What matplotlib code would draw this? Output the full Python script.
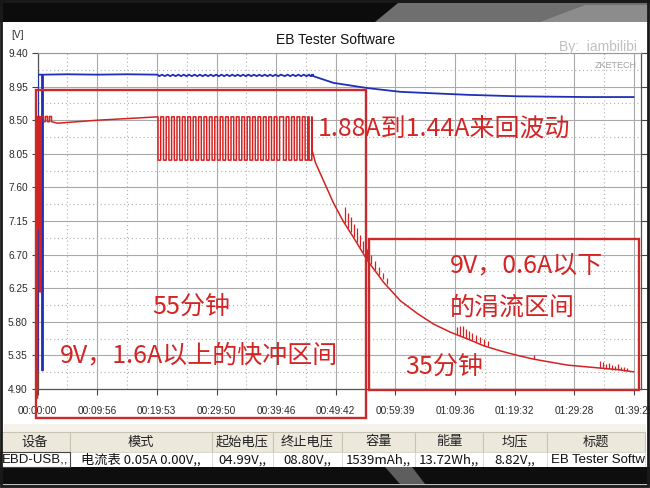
import matplotlib
matplotlib.use("Agg")
import matplotlib.pyplot as plt
from matplotlib.patches import Rectangle, Polygon
import numpy as np

# ---------------- data ----------------
x_tick_secs = [0, 596, 1193, 1790, 2386, 2982, 3579, 4176, 4772, 5368, 5965]
x_tick_labels = ["00:00:00", "00:09:56", "00:19:53", "00:29:50", "00:39:46", "00:49:42",
                 "00:59:39", "01:09:36", "01:19:32", "01:29:28", "01:39:25"]
y_ticks = [4.90, 5.35, 5.80, 6.25, 6.70, 7.15, 7.60, 8.05, 8.50, 8.95, 9.40]

# red trace (current, drawn on the screen's scale): start section
red_start_t = [0, 0, 8, 8, 14, 14, 22, 22, 30, 30, 36, 36, 60, 60, 80, 80, 100, 100, 120, 120, 140, 140,
               200, 600, 1000, 1200]
red_start_v = [4.78, 8.55, 8.55, 7.05, 7.05, 8.55, 8.55, 6.20, 6.20, 6.40, 6.40, 8.55, 8.55, 8.48, 8.48, 8.55,
               8.55, 8.48, 8.48, 8.55, 8.55, 8.48, 8.46, 8.50, 8.53, 8.545]
# square oscillation 1.88A <-> 1.44A : start of each low period and its length (s)
pulse_low_start = [1205, 1260, 1314, 1368, 1422, 1476, 1530, 1584, 1638, 1692, 1746, 1800, 1854, 1908,
                   1962, 2016, 2070, 2124, 2178, 2232, 2286, 2340, 2394, 2460, 2514, 2568, 2622, 2676, 2716]
pulse_low_len = 27
pulse_high_v = 8.545
pulse_low_v = 7.965
# taper (trickle) section
red_tail_t = [2745, 2745, 2780, 2860, 2960, 3060, 3160, 3300, 3460, 3630, 3800, 3960, 4130, 4300,
              4460, 4630, 4800, 4960, 5130, 5300, 5460, 5630, 5800, 5960]
red_tail_v = [8.545, 8.10, 7.93, 7.69, 7.39, 7.14, 6.93, 6.62, 6.33, 6.08, 5.91, 5.77, 5.66, 5.57,
              5.48, 5.41, 5.35, 5.30, 5.26, 5.22, 5.20, 5.18, 5.16, 5.13]
spike_t = [3070, 3100, 3130, 3160, 3190, 3220, 3250, 3290, 3330, 3370, 3410, 3450, 3490,
           4190, 4220, 4250, 4280, 4310, 4340, 4380, 4420, 4460, 4500,
           4960,
           5620, 5650, 5680, 5710, 5740, 5770, 5800, 5830, 5860, 5890]
spike_base = [7.12, 7.06, 7.00, 6.93, 6.87, 6.80, 6.73, 6.64, 6.57, 6.50, 6.43, 6.37, 6.31,
              5.63, 5.61, 5.60, 5.58, 5.57, 5.55, 5.53, 5.51, 5.48, 5.47,
              5.30,
              5.18, 5.18, 5.17, 5.17, 5.16, 5.16, 5.15, 5.15, 5.14, 5.14]
spike_top = [7.34, 7.26, 7.20, 7.11, 7.05, 6.96, 6.88, 6.78, 6.70, 6.62, 6.53, 6.46, 6.39,
             5.73, 5.74, 5.74, 5.71, 5.68, 5.65, 5.62, 5.59, 5.57, 5.54,
             5.36,
             5.28, 5.26, 5.24, 5.25, 5.22, 5.21, 5.23, 5.20, 5.19, 5.18]

# blue trace (voltage)
blue_start_t = [5, 5, 45, 45, 55, 55, 300, 600, 900, 1200]
blue_start_v = [5.15, 9.11, 9.11, 5.15, 5.15, 9.11, 9.115, 9.11, 9.115, 9.11]
blue_wave_hi = 9.11
blue_wave_lo = 9.09
blue_tail_t = [2740, 2780, 2960, 3300, 3630, 3960, 4300, 4800, 5500, 5960]
blue_tail_v = [9.10, 9.08, 9.00, 8.93, 8.88, 8.86, 8.84, 8.82, 8.81, 8.81]

table_headers = ["设备", "模式", "起始电压", "终止电压", "容量", "能量", "均压", "标题"]
table_values = ["EBD-USB,,", "电流表 0.05A 0.00V,,", "04.99V,,", "08.80V,,", "1539mAh,,",
                "13.72Wh,,", "8.82V,,", "EB Tester Softw"]
table_col_edges = [0, 70, 212, 273, 342, 415, 483, 547, 645]

# ---------------- build traces from the lists ----------------
red_t = list(red_start_t)
red_v = list(red_start_v)
for s in pulse_low_start:
    red_t += [s, s, s + pulse_low_len, s + pulse_low_len]
    red_v += [pulse_high_v, pulse_low_v, pulse_low_v, pulse_high_v]
red_t += red_tail_t
red_v += red_tail_v

blue_t = list(blue_start_t)
blue_v = list(blue_start_v)
for s in pulse_low_start:
    blue_t += [s + pulse_low_len / 2, s + pulse_low_len + 13]
    blue_v += [blue_wave_lo, blue_wave_hi]
blue_t += blue_tail_t
blue_v += blue_tail_v

# ---------------- figure ----------------
W, H = 650, 488
fig = plt.figure(figsize=(6.5, 4.88), dpi=100)
fig.patch.set_facecolor("white")

def fx(x):
    return x / W

def fy(y):
    return 1 - y / H

CJK = ["Noto Sans CJK SC", "DejaVu Sans"]
SANS = ["Liberation Sans", "DejaVu Sans"]

ax = fig.add_axes([fx(37.5), fy(389), (641 - 37.5) / W, (389 - 53) / H])
ax.set_xlim(0, 6035)
ax.set_ylim(4.90, 9.40)
ax.set_xticks(x_tick_secs)
ax.set_xticklabels(x_tick_labels, fontsize=7.3, color="#2a2a2a", family=SANS)
ax.set_yticks(y_ticks)
ax.set_yticklabels([f"{v:.2f}" for v in y_ticks], fontsize=7.3, color="#2a2a2a", family=SANS)
ax.set_xticks([(a + b) / 2 for a, b in zip(x_tick_secs[:-1], x_tick_secs[1:])], minor=True)
ax.set_yticks([(a + b) / 2 for a, b in zip(y_ticks[:-1], y_ticks[1:])], minor=True)
ax.tick_params(which="major", direction="out", length=4, width=0.8, color="#444444", pad=8,
               right=True, labelright=False)
ax.tick_params(axis="y", which="major", pad=3)
ax.tick_params(which="minor", length=0)
ax.grid(which="major", color="#a9a9a9", lw=0.8, ls="-")
ax.grid(which="minor", color="#b0b0b0", lw=0.8, ls=(0, (1, 2.5)))
ax.set_axisbelow(True)
for sp in ["left", "bottom", "right"]:
    ax.spines[sp].set_color("#555555")
    ax.spines[sp].set_linewidth(0.9)
ax.spines["top"].set_color("#999999")
ax.spines["top"].set_linewidth(0.8)

ax.plot(blue_t, blue_v, color="#1f2fb8", lw=1.3, zorder=3)
ax.plot(red_t, red_v, color="#d42222", lw=1.1, zorder=4, clip_on=False)
ax.vlines(spike_t, spike_base, spike_top, color="#d42222", lw=0.9, zorder=4)

# ---------------- screenshot chrome ----------------
def rect_px(x0, y0, x1, y1, **kw):
    r = Rectangle((fx(x0), fy(y1)), (x1 - x0) / W, (y1 - y0) / H, transform=fig.transFigure, **kw)
    fig.patches.append(r)
    return r

# top photo band
rect_px(0, 0, 650, 22, facecolor="#0c0c0c", edgecolor="none", zorder=0)
fig.patches.append(Polygon([(fx(375), fy(22)), (fx(398), fy(3)), (fx(650), fy(3)), (fx(650), fy(22))],
                           closed=True, transform=fig.transFigure, facecolor="#6f6f6f",
                           edgecolor="none", zorder=0.5))
fig.patches.append(Polygon([(fx(540), fy(22)), (fx(585), fy(5)), (fx(650), fy(5)), (fx(650), fy(22))],
                           closed=True, transform=fig.transFigure, facecolor="#8c8c8c",
                           edgecolor="none", zorder=0.6))
# light strip above table
rect_px(4, 424, 646, 432, facecolor="#f4f2ea", edgecolor="none", zorder=0)
# table header and row
for i, (h, v) in enumerate(zip(table_headers, table_values)):
    x0, x1 = table_col_edges[i], table_col_edges[i + 1]
    rect_px(x0, 432, x1, 452, facecolor="#ece9dc", edgecolor="#c8c4b4", lw=0.8, zorder=1)
    rect_px(x0, 452, x1, 467, facecolor="white", edgecolor="#d8d6cc", lw=0.6, zorder=1)
    fig.text(fx((x0 + x1) / 2), fy(442), h, ha="center", va="center", fontsize=9.5,
             family=CJK, color="#222222", zorder=5)
    if i == 0:
        fig.text(fx(x1 - 2), fy(460), v, ha="right", va="center", fontsize=9.5,
                 family=SANS, color="#111111", zorder=5)
    elif i == len(table_headers) - 1:
        fig.text(fx(x0 + 4), fy(460), v, ha="left", va="center", fontsize=9.5,
                 family=SANS, color="#111111", zorder=5)
    else:
        fig.text(fx((x0 + x1) / 2), fy(460), v, ha="center", va="center", fontsize=9.5,
                 family=["Noto Sans CJK SC", "Liberation Sans"], color="#111111", zorder=5)
rect_px(0, 452, 70, 467, facecolor="none", edgecolor="#444444", lw=0.8, zorder=2)
# bottom photo band
rect_px(0, 467, 650, 484, facecolor="#0e0e0e", edgecolor="none", zorder=1)
fig.patches.append(Polygon([(fx(385), fy(467)), (fx(412), fy(467)), (fx(425), fy(484)), (fx(400), fy(484))],
                           closed=True, transform=fig.transFigure, facecolor="#5e5e5e",
                           edgecolor="none", zorder=1.5))
rect_px(0, 484, 650, 488, facecolor="#bdbdbd", edgecolor="none", zorder=1)
# outer frame lines
rect_px(1, 1, 648, 486, facecolor="none", edgecolor="#1a1a1a", lw=2.0, zorder=6)

# title and axis unit
fig.text(fx(336), fy(40), "EB Tester Software", ha="center", va="center", fontsize=10,
         family=SANS, color="#111111")
fig.text(fx(18), fy(35), "[V]", ha="center", va="center", fontsize=7.3, family=SANS, color="#333333")
# watermark
fig.text(fx(598), fy(47), "By:  iambilibi", ha="center", va="center", fontsize=10,
         family=SANS, color="#c0c0c0", zorder=6)
fig.text(fx(616), fy(65), "ZKETECH", ha="center", va="center", fontsize=6.5,
         family=SANS, color="#a0a0a0", zorder=6)

# red annotations
RED = "#d42525"
rect_px(36, 90, 366, 418, facecolor="none", edgecolor="#cc2a2a", lw=1.7, zorder=7)
rect_px(369, 239, 639, 390, facecolor="none", edgecolor="#cc2a2a", lw=1.7, zorder=7)
ann = [(318, 130, "1.88A到1.44A来回波动"),
       (152, 308, "55分钟"),
       (60, 355, "9V，1.6A以上的快冲区间"),
       (450, 265, "9V，0.6A以下"),
       (450, 308, "的涓流区间"),
       (405, 368, "35分钟")]
for x, y, s in ann:
    fig.text(fx(x), fy(y), s, ha="left", va="center", fontsize=18, family=CJK, color=RED, zorder=8)

fig.savefig("out.png", dpi=100)
